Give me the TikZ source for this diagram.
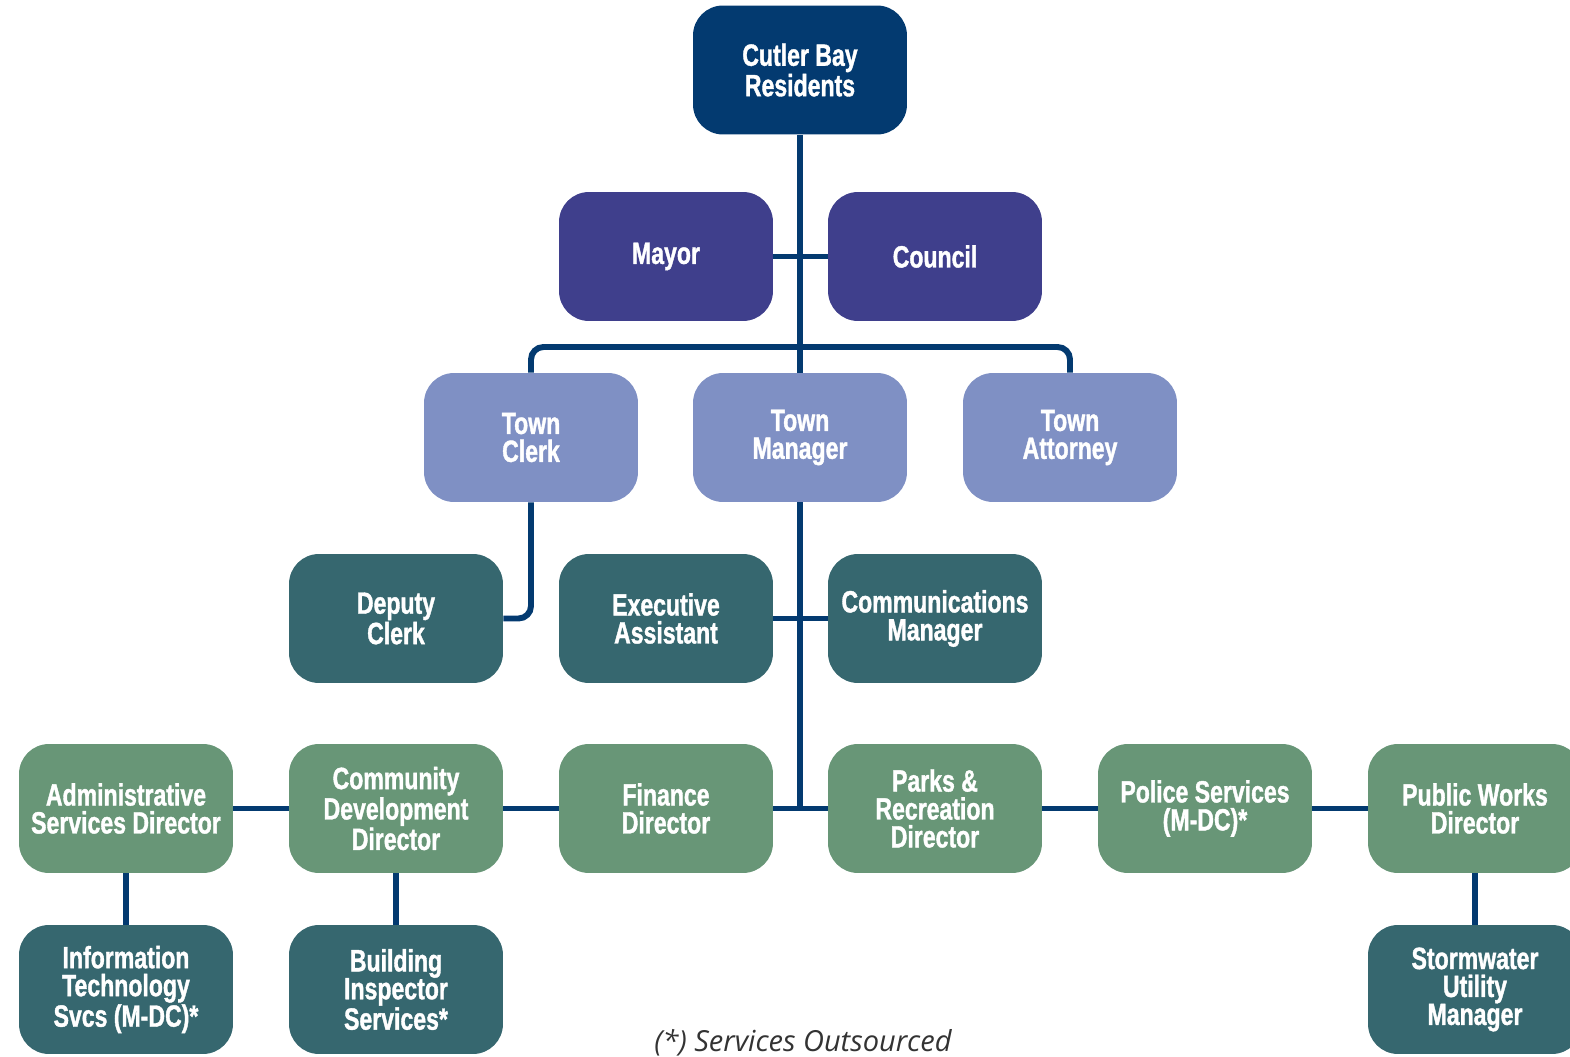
\documentclass[tikz,border=0pt]{standalone}
\usepackage{fontspec}
\usepackage{tikz}
\newfontfamily\orgfont[FakeStretch=0.75,FakeBold=1.2]{Liberation Sans Bold}
\newfontfamily\notefont{Open Sans}
\definecolor{navy}{HTML}{033A70}
\definecolor{council}{HTML}{3F3F8C}
\definecolor{officer}{HTML}{7F90C4}
\definecolor{staff}{HTML}{36676F}
\definecolor{director}{HTML}{689677}
\definecolor{notegray}{HTML}{333333}

\begin{document}
\begin{tikzpicture}[x=0.02cm,y=-0.02cm]
    % Define styles for the boxes and the lines
    \tikzstyle{box} = [rounded corners=0.6cm, minimum width=4.28cm, minimum height=2.58cm, inner sep=0pt, align=center, text=white, font=\orgfont\fontsize{17.5}{15.9}\selectfont]
    \tikzstyle{link} = [draw=navy, line width=3.4pt]

    \useasboundingbox (0,0) rectangle (1570,1057);

    % Residents, Mayor and Council
    \node[box, fill=navy] (residents) at (800,70) {Cutler Bay\\Residents};
    \node[box, fill=council] (mayor) at (666,256.5) {Mayor};
    \node[box, fill=council] (council) at (935,256.5) {Council};

    % Town officers
    \node[box, fill=officer] (clerk) at (531,437.5) {Town\\Clerk};
    \node[box, fill=officer] (manager) at (800,437.5) {Town\\Manager};
    \node[box, fill=officer] (attorney) at (1070,437.5) {Town\\Attorney};

    % Staff
    \node[box, fill=staff] (deputy) at (396,618.5) {Deputy\\Clerk};
    \node[box, fill=staff] (exec) at (666,618.5) {Executive\\Assistant};
    \node[box, fill=staff] (comm) at (935,618.5) {Communications\\Manager};

    % Directors
    \node[box, fill=director] (admin) at (126,808.5) {Administrative\\Services Director};
    \node[box, fill=director] (comdev) at (396,808.5) {Community\\Development\\Director};
    \node[box, fill=director] (finance) at (666,808.5) {Finance\\Director};
    \node[box, fill=director] (parks) at (935,808.5) {Parks \&\\Recreation\\Director};
    \node[box, fill=director] (police) at (1205,808.5) {Police Services\\(M-DC)*};
    \node[box, fill=director] (pubworks) at (1475,808.5) {Public Works\\Director};

    % Services below the directors
    \node[box, fill=staff] (info) at (126,989.5) {Information\\Technology\\Svcs (M-DC)*};
    \node[box, fill=staff] (building) at (396,989.5) {Building\\Inspector\\Services*};
    \node[box, fill=staff] (storm) at (1475,989.5) {Stormwater\\Utility\\Manager};

    % Footnote
    \node[font=\notefont\itshape\fontsize{16.5}{18}\selectfont, text=notegray, anchor=base] (note) at (803,1051) {(*) Services Outsourced};

    % Lines
    \coordinate (split) at (800,347);
    \coordinate (trunk) at (800,808.5);
    \draw[link] (residents) -- (manager);
    \draw[link] (manager) -- (trunk);
    \draw[link] (mayor) -- (council);
    \draw[link, rounded corners=0.25cm] (clerk.north) |- (split) -| (attorney.north);
    \draw[link, rounded corners=0.25cm] (clerk.south) |- (deputy.east);
    \draw[link] (exec) -- (comm);
    \foreach \a/\b in {admin/comdev, comdev/finance, finance/parks, parks/police, police/pubworks}
        \draw[link] (\a) -- (\b);
    \foreach \a/\b in {admin/info, comdev/building, pubworks/storm}
        \draw[link] (\a) -- (\b);
\end{tikzpicture}
\end{document}
